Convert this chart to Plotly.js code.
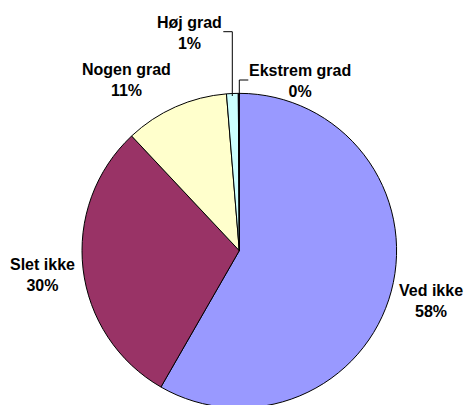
<!DOCTYPE html>
<html>
<head>
<meta charset="utf-8">
<script src="https://cdn.plot.ly/plotly-3.0.1.min.js"></script>
<style>
  html, body { margin: 0; padding: 0; background: #fff; overflow: hidden; }
  #chart { width: 465px; height: 410px; }
</style>
</head>
<body>
<div id="chart"></div>
<script>
const categories = ["Ved ikke", "Slet ikke", "Nogen grad", "Høj grad", "Ekstrem grad"];
const values = [58.3, 29.7, 10.7, 1.2, 0.1];
const colors = ["#9999FF", "#993366", "#FFFFCC", "#CCFFFF", "#660066"];

const W = 465, H = 410;
const px = x => x / W;
const py = y => 1 - y / H;

const total = values.reduce((a, b) => a + b, 0);
const pctText = values.map(v => Math.round(v / total * 100) + "%");

// label anchor positions (pixel centres) for each category
const labelPos = [[431, 301], [42.5, 275], [126.7, 80.3], [189, 32.7], [300, 81]];

const annotations = categories.map((c, i) => ({
  text: c + "<br>" + pctText[i],
  x: px(labelPos[i][0]), y: py(labelPos[i][1]),
  xref: "paper", yref: "paper",
  xanchor: "center", yanchor: "middle",
  showarrow: false,
  font: { family: "Liberation Sans, Arial, sans-serif", size: 16, color: "#000", weight: 700 }
}));

const lineStyle = { color: "#000", width: 1 };
const shapes = [
  { type: "path", xref: "paper", yref: "paper",
    path: `M ${px(223.3)} ${py(31.7)} L ${px(232.3)} ${py(31.7)} L ${px(232.3)} ${py(96)}`,
    line: lineStyle },
  { type: "path", xref: "paper", yref: "paper",
    path: `M ${px(248.3)} ${py(80)} L ${px(239.3)} ${py(80)} L ${px(239.3)} ${py(95)}`,
    line: lineStyle }
];

const trace = {
  type: "pie",
  labels: categories,
  values: values,
  sort: false,
  direction: "clockwise",
  rotation: 0,
  textinfo: "none",
  hoverinfo: "label+percent",
  marker: { colors: colors, line: { color: "#000", width: 1 } },
  domain: { x: [82 / W, 396.6 / W], y: [py(408), py(93.3)] },
  showlegend: false
};

Plotly.newPlot("chart", [trace], {
  width: W, height: H,
  margin: { l: 0, r: 0, t: 0, b: 0 },
  paper_bgcolor: "#fff",
  showlegend: false,
  annotations: annotations,
  shapes: shapes
}, { displayModeBar: false, staticPlot: true });
</script>
</body>
</html>
